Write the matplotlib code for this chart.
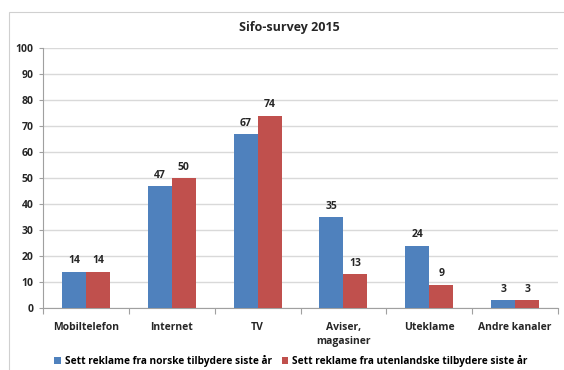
import matplotlib
matplotlib.use("Agg")
import matplotlib.pyplot as plt
import numpy as np
from matplotlib.patches import Rectangle

plt.rcParams['font.family'] = ['Open Sans', 'DejaVu Sans']

categories = ["Mobiltelefon", "Internet", "TV", "Aviser,\nmagasiner", "Uteklame", "Andre kanaler"]
norske = [14, 47, 67, 35, 24, 3]
utenlandske = [14, 50, 74, 13, 9, 3]
series_names = ["Sett reklame fra norske tilbydere siste år",
                "Sett reklame fra utenlandske tilbydere siste år"]
title = "Sifo-survey 2015"
yticks = list(range(0, 101, 10))

blue = "#4F81BD"
red = "#C0504D"
grid = "#D9D9D9"
txt = "#262626"

fig = plt.figure(figsize=(5.64, 3.70), dpi=100)
fig.patch.set_facecolor("white")

# outer chart frame
fig.add_artist(Rectangle((9 / 564, -0.1), 1.2, (370 - 12) / 370 + 0.1,
                         transform=fig.transFigure, fill=False,
                         edgecolor="#D0D0D0", linewidth=0.8))

ax = fig.add_axes([43 / 564, (370 - 308) / 370, (558 - 43) / 564, (308 - 48) / 370])

x = np.arange(len(categories))
w = 0.28
b1 = ax.bar(x - w / 2, norske, w, color=blue, label=series_names[0], zorder=3)
b2 = ax.bar(x + w / 2, utenlandske, w, color=red, label=series_names[1], zorder=3)

for bars, vals in ((b1, norske), (b2, utenlandske)):
    for rect, v in zip(bars, vals):
        ax.text(rect.get_x() + rect.get_width() / 2, v + 2.0, str(v),
                ha="center", va="bottom", fontsize=7.5, fontweight="bold", color=txt)

ax.set_xlim(-0.5, len(categories) - 0.5)
ax.set_ylim(0, 100)
ax.set_yticks(yticks)
ax.set_yticklabels([str(t) for t in yticks], fontsize=7.5, fontweight="bold", color=txt)
ax.yaxis.grid(True, color=grid, linewidth=1.0, zorder=0)
ax.set_axisbelow(True)

# category labels between boundary ticks
ax.set_xticks(x)
ax.set_xticklabels(categories, fontsize=7.5, fontweight="bold", color=txt, linespacing=1.45)
ax.tick_params(axis="x", length=0, pad=10)
ax.set_xticks(np.arange(-0.5, len(categories) + 0.5, 1), minor=True)
ax.tick_params(axis="x", which="minor", length=4, color="#A0A0A0", width=0.8)
ax.tick_params(axis="y", length=3, color="#A0A0A0", width=0.8, pad=4)

for s in ("top", "right"):
    ax.spines[s].set_visible(False)
for s in ("left", "bottom"):
    ax.spines[s].set_color("#A0A0A0")
    ax.spines[s].set_linewidth(0.8)

fig.text(289 / 564, (370 - 27) / 370, title, ha="center", va="center",
         fontsize=9, fontweight="bold", color=txt)

fig.legend(handles=[b1, b2], labels=series_names, loc="center",
           bbox_to_anchor=(291 / 564, (370 - 361) / 370), ncol=2, frameon=False,
           prop={"weight": "bold", "size": 7.3},
           handlelength=0.6, handleheight=0.6, handletextpad=0.4, columnspacing=1.0)

fig.savefig("out.png", dpi=100)
